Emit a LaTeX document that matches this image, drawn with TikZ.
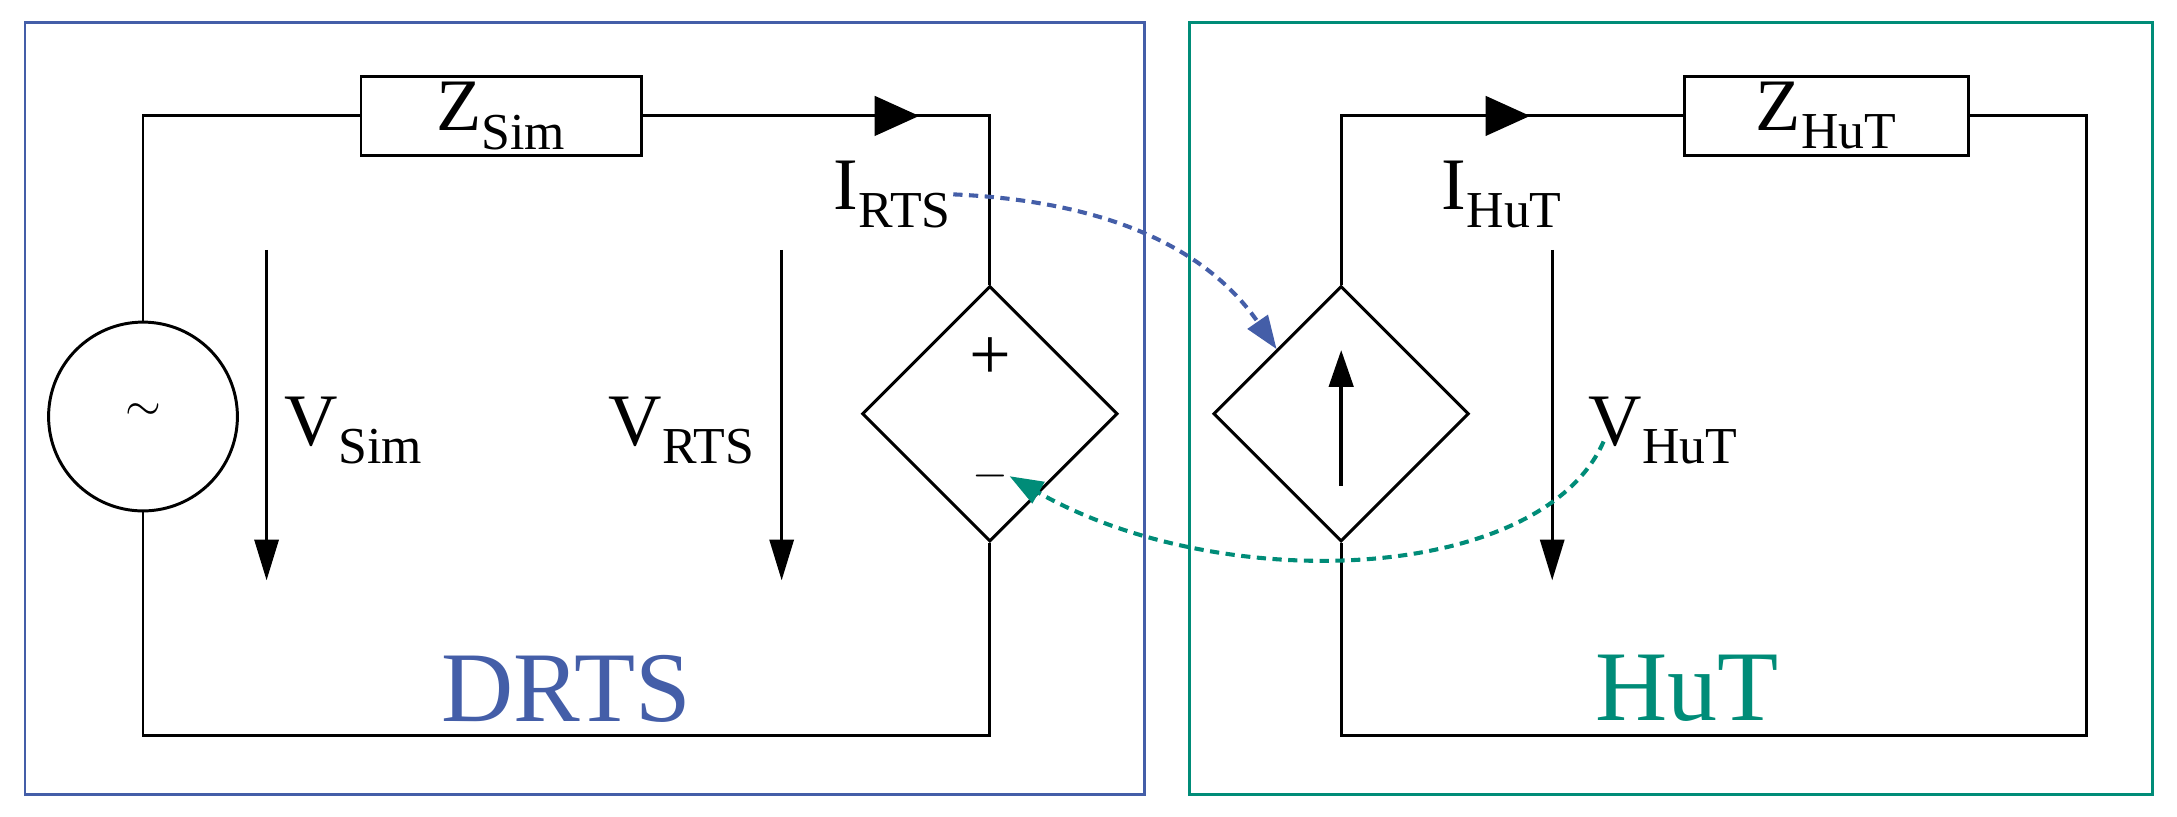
\documentclass[tikz,border=0pt]{standalone}
\usepackage{fontspec}
\setmainfont{Liberation Serif}
\usetikzlibrary{arrows.meta,shapes.geometric}
\definecolor{drtsblue}{RGB}{68,94,168}
\definecolor{huttea}{RGB}{0,140,120}
\tikzset{
  wire/.style={line width=1.6pt},
  lbl/.style={inner sep=0.75pt,font=\fontsize{40}{44}\selectfont},
  vvarrow/.style={line width=1.6pt,-{Triangle[length=22pt,width=13pt]}},
  flowtip/.style={fill=black},
  link/.style={line width=2.2pt,dash pattern=on 5pt off 3.5pt,-{Triangle[length=18pt,width=13pt]}}
}
\begin{document}
\begin{tikzpicture}[x=0.75pt,y=0.75pt,yscale=-1,xscale=1]
\useasboundingbox (0,0) rectangle (1568,588);

%Frames
\draw [drtsblue,line width=1.6pt] (18,16) rectangle (824,572);
\draw [huttea,line width=1.6pt] (857,16) rectangle (1550,572);

%DRTS circuit
\node [draw,wire,minimum width=202*0.75pt,minimum height=57*0.75pt,lbl] (zsim) at (361,83.5) {Z\textsubscript{Sim}};
\node [draw,wire,circle,minimum size=136*0.75pt,inner sep=0pt] (src) at (103,300) {};
\node [font=\fontsize{60}{60}\selectfont] (srcsym) at (103,297) {$\sim$};
\node [draw,wire,diamond,aspect=1,minimum size=184*0.75pt,inner sep=0pt] (vsrc) at (713,298) {};
\node [lbl] (plus) at (713,258) {+};
\node [lbl] (minus) at (713,343) {$-$};
\draw [wire] (src.north) -- (103,83.5) -- (zsim.west);
\draw [wire] (zsim.east) -- (713,83.5) -- (vsrc.north);
\draw [wire] (vsrc.south) -- (713,530) -- (103,530) -- (src.south);
\fill [flowtip] (662,83.5) -- (630,69) -- (630,98) -- cycle;
\node [lbl] (irts) at (643,140) {I\textsubscript{RTS}};
\draw [vvarrow] (192,180) -- (192,418);
\node [lbl,anchor=west] (vsim) at (204,310) {V\textsubscript{Sim}};
\draw [vvarrow] (563,180) -- (563,418);
\node [lbl,anchor=east] (vrts) at (545,310) {V\textsubscript{RTS}};
\node [drtsblue,font=\fontsize{54}{58}\selectfont] (drts) at (408,496) {DRTS};

%HuT circuit
\node [draw,wire,minimum width=205*0.75pt,minimum height=57*0.75pt,lbl] (zhut) at (1315.5,83.5) {Z\textsubscript{HuT}};
\node [draw,wire,diamond,aspect=1,minimum size=184*0.75pt,inner sep=0pt] (isrc) at (966,298) {};
\draw [wire] (isrc.north) -- (966,83.5) -- (zhut.west);
\draw [wire] (zhut.east) -- (1503,83.5) -- (1503,530) -- (966,530) -- (isrc.south);
\draw [line width=2.4pt,-{Triangle[length=20pt,width=13pt]}] (966,350) -- (966,252);
\fill [flowtip] (1102,83.5) -- (1070,69) -- (1070,98) -- cycle;
\node [lbl] (ihut) at (1082,140) {I\textsubscript{HuT}};
\draw [vvarrow] (1118,180) -- (1118,418);
\node [lbl,anchor=west] (vhut) at (1143,310) {V\textsubscript{HuT}};
\node [huttea,font=\fontsize{54}{58}\selectfont] (hut) at (1215,496) {HuT};

%Exchanged signals
\draw [link,drtsblue] (irts.east) .. controls (800,145) and (870,180) .. (isrc.north west);
\draw [link,huttea] (1155,318) .. controls (1110,420) and (880,430) .. (minus.east);
\end{tikzpicture}
\end{document}
